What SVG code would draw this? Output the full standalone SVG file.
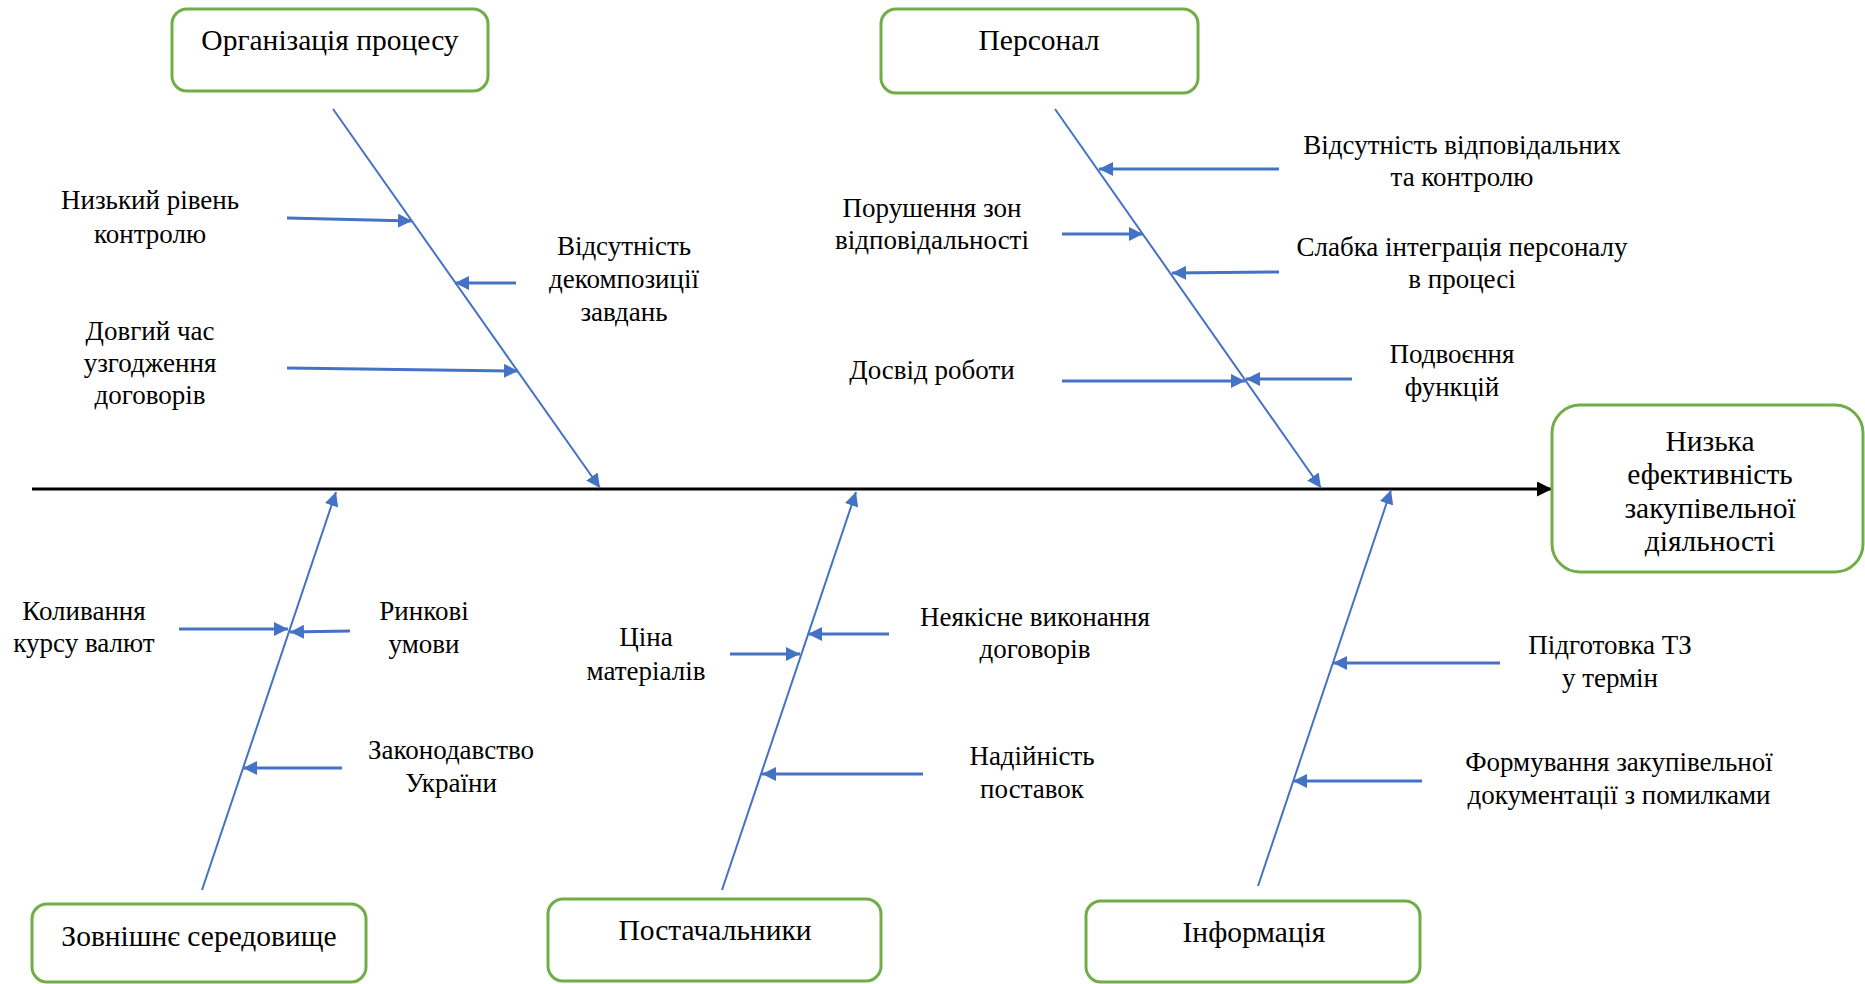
<svg xmlns="http://www.w3.org/2000/svg" width="1865" height="984" viewBox="0 0 1865 984">
<style>
.box{fill:#fff;stroke:#70AD47;stroke-width:3}
.t{font-family:"Liberation Serif","Times New Roman",serif;font-size:27px;fill:#000;text-anchor:middle}
.h{font-size:29.5px}
.bone{stroke:#4472C4;stroke-width:2;fill:none}
.sub{stroke:#4472C4;stroke-width:3;fill:none}
.axis{stroke:#000;stroke-width:3;fill:none}
</style>
<defs>
<marker id="ab" viewBox="0 0 10 10" refX="10" refY="5" markerWidth="14" markerHeight="14" markerUnits="userSpaceOnUse" orient="auto">
<path d="M0,0 L10,5 L0,10 Z" fill="#4472C4"/>
</marker>
<marker id="ak" viewBox="0 0 10 10" refX="10" refY="5" markerWidth="16" markerHeight="15" markerUnits="userSpaceOnUse" orient="auto">
<path d="M0,0 L10,5 L0,10 Z" fill="#000"/>
</marker>
</defs>
<rect width="1865" height="984" fill="#fff"/>

<g id="connectors">
<line class="axis" x1="32" y1="489" x2="1552" y2="489" marker-end="url(#ak)"/>
<line class="bone" x1="333" y1="109" x2="600" y2="488" marker-end="url(#ab)"/>
<line class="bone" x1="1055" y1="109" x2="1321" y2="488" marker-end="url(#ab)"/>
<line class="bone" x1="202" y1="890" x2="336" y2="492" marker-end="url(#ab)"/>
<line class="bone" x1="722" y1="890" x2="856" y2="492" marker-end="url(#ab)"/>
<line class="bone" x1="1258" y1="886" x2="1391" y2="490" marker-end="url(#ab)"/>

<line class="sub" x1="287" y1="218" x2="412" y2="221" marker-end="url(#ab)"/>
<line class="sub" x1="516" y1="283" x2="455" y2="283" marker-end="url(#ab)"/>
<line class="sub" x1="287" y1="368" x2="518" y2="371" marker-end="url(#ab)"/>
<line class="sub" x1="1279" y1="169" x2="1099" y2="169" marker-end="url(#ab)"/>
<line class="sub" x1="1062" y1="234" x2="1143" y2="234" marker-end="url(#ab)"/>
<line class="sub" x1="1279" y1="272" x2="1172" y2="273" marker-end="url(#ab)"/>
<line class="sub" x1="1062" y1="381" x2="1245" y2="381" marker-end="url(#ab)"/>
<line class="sub" x1="1352" y1="379" x2="1246" y2="379" marker-end="url(#ab)"/>
<line class="sub" x1="179" y1="629" x2="288" y2="629" marker-end="url(#ab)"/>
<line class="sub" x1="350" y1="631" x2="290" y2="632" marker-end="url(#ab)"/>
<line class="sub" x1="342" y1="768" x2="243" y2="768" marker-end="url(#ab)"/>
<line class="sub" x1="730" y1="654" x2="800" y2="654" marker-end="url(#ab)"/>
<line class="sub" x1="889" y1="634" x2="808" y2="634" marker-end="url(#ab)"/>
<line class="sub" x1="923" y1="774" x2="762" y2="774" marker-end="url(#ab)"/>
<line class="sub" x1="1500" y1="663" x2="1333" y2="663" marker-end="url(#ab)"/>
<line class="sub" x1="1422" y1="781" x2="1293" y2="781" marker-end="url(#ab)"/>
</g>

<g id="node-org">
<rect class="box" x="172" y="9" width="316" height="82" rx="15"/>
<text class="t h" x="330" y="50">Організація процесу</text>
</g>
<g id="node-personal">
<rect class="box" x="881" y="9" width="317" height="84" rx="15"/>
<text class="t h" x="1039" y="50">Персонал</text>
</g>
<g id="node-effect">
<rect class="box" x="1552" y="405" width="311" height="167" rx="28"/>
<text class="t h" x="1710" y="451">Низька</text>
<text class="t h" x="1710" y="484">ефективність</text>
<text class="t h" x="1710" y="518">закупівельної</text>
<text class="t h" x="1710" y="551">діяльності</text>
</g>
<g id="node-external">
<rect class="box" x="32" y="904" width="334" height="78" rx="15"/>
<text class="t h" x="199" y="946">Зовнішнє середовище</text>
</g>
<g id="node-suppliers">
<rect class="box" x="548" y="899" width="333" height="82" rx="15"/>
<text class="t h" x="715" y="940">Постачальники</text>
</g>
<g id="node-info">
<rect class="box" x="1086" y="901" width="334" height="81" rx="15"/>
<text class="t h" x="1254" y="942">Інформація</text>
</g>

<g id="label-low-control">
<text class="t" x="150" y="209">Низький рівень</text>
<text class="t" x="150" y="243">контролю</text>
</g>
<g id="label-decomposition">
<text class="t" x="624" y="255">Відсутність</text>
<text class="t" x="624" y="288">декомпозиції</text>
<text class="t" x="624" y="321">завдань</text>
</g>
<g id="label-long-time">
<text class="t" x="150" y="340">Довгий час</text>
<text class="t" x="150" y="372">узгодження</text>
<text class="t" x="150" y="404">договорів</text>
</g>
<g id="label-responsible">
<text class="t" x="1462" y="154">Відсутність відповідальних</text>
<text class="t" x="1462" y="186">та контролю</text>
</g>
<g id="label-zones">
<text class="t" x="932" y="217">Порушення зон</text>
<text class="t" x="932" y="249">відповідальності</text>
</g>
<g id="label-integration">
<text class="t" x="1462" y="256">Слабка інтеграція персоналу</text>
<text class="t" x="1462" y="288">в процесі</text>
</g>
<g id="label-experience">
<text class="t" x="932" y="379">Досвід роботи</text>
</g>
<g id="label-duplication">
<text class="t" x="1452" y="363">Подвоєння</text>
<text class="t" x="1452" y="396">функцій</text>
</g>
<g id="label-currency">
<text class="t" x="84" y="620">Коливання</text>
<text class="t" x="84" y="652">курсу валют</text>
</g>
<g id="label-market">
<text class="t" x="424" y="620">Ринкові</text>
<text class="t" x="424" y="653">умови</text>
</g>
<g id="label-law">
<text class="t" x="451" y="759">Законодавство</text>
<text class="t" x="451" y="792">України</text>
</g>
<g id="label-price">
<text class="t" x="646" y="646">Ціна</text>
<text class="t" x="646" y="680">матеріалів</text>
</g>
<g id="label-quality">
<text class="t" x="1035" y="626">Неякісне виконання</text>
<text class="t" x="1035" y="658">договорів</text>
</g>
<g id="label-reliability">
<text class="t" x="1032" y="765">Надійність</text>
<text class="t" x="1032" y="798">поставок</text>
</g>
<g id="label-tz">
<text class="t" x="1610" y="654">Підготовка ТЗ</text>
<text class="t" x="1610" y="687">у термін</text>
</g>
<g id="label-docs">
<text class="t" x="1619" y="771">Формування закупівельної</text>
<text class="t" x="1619" y="804">документації з помилками</text>
</g>
</svg>
